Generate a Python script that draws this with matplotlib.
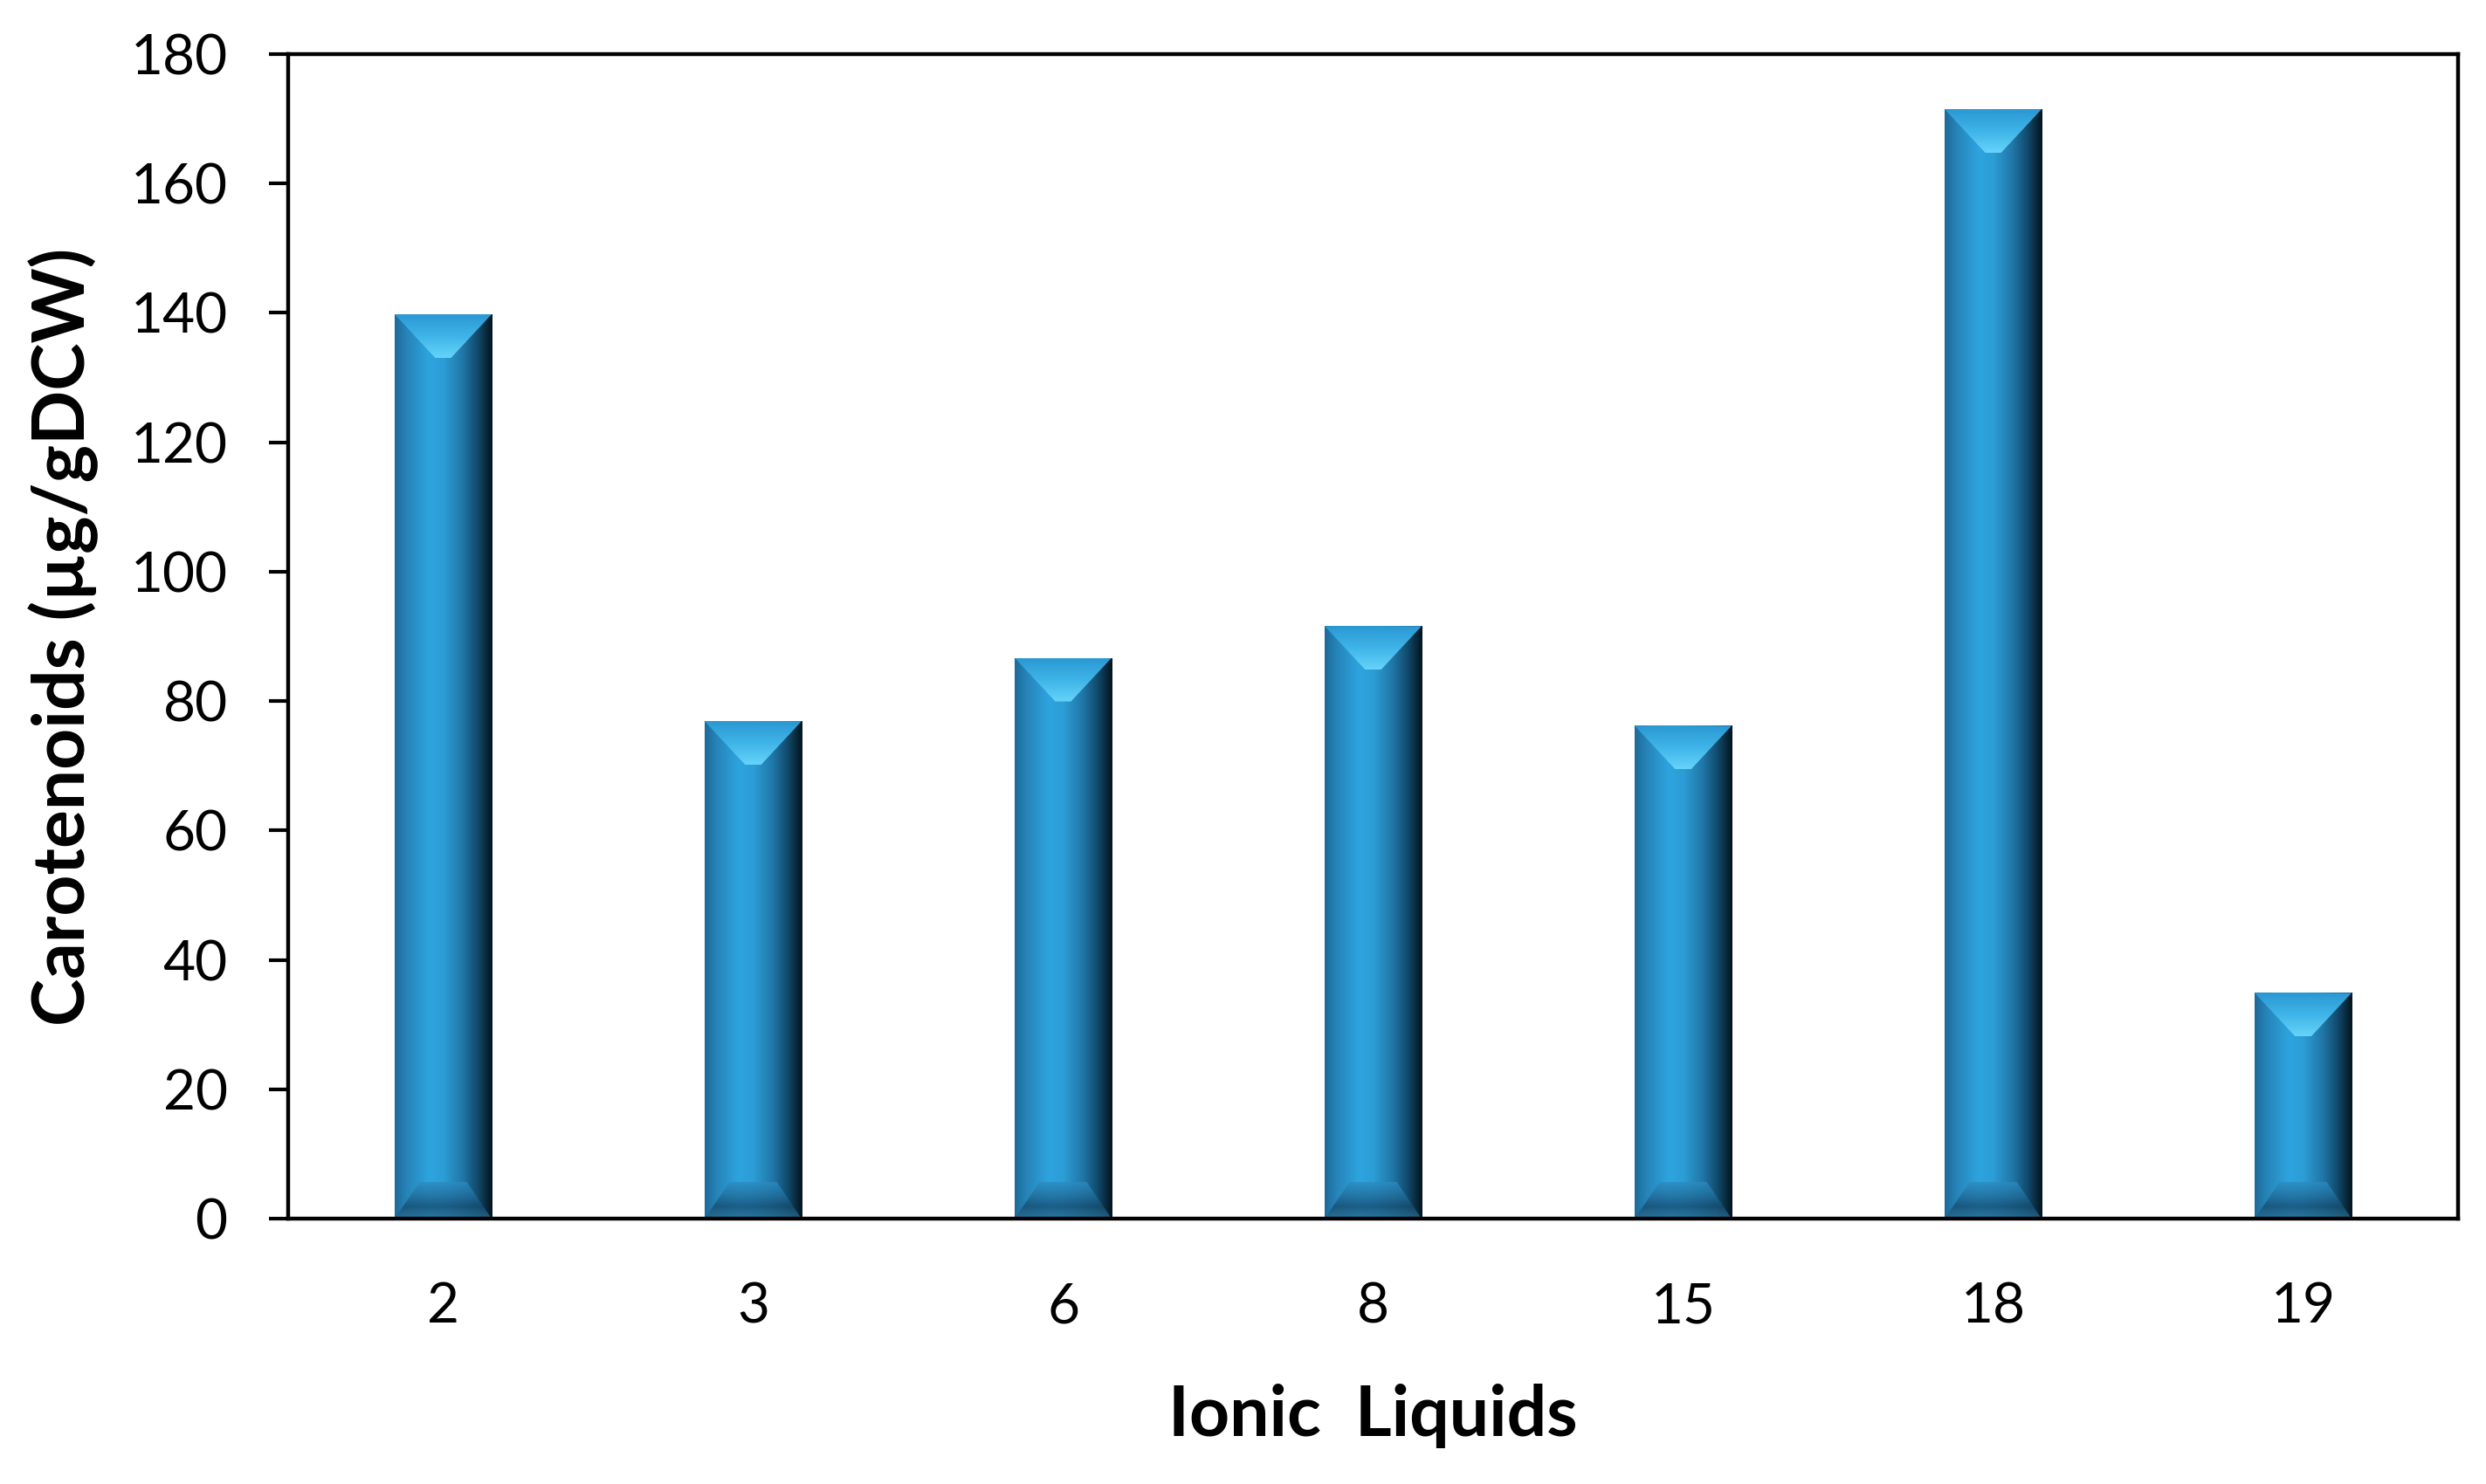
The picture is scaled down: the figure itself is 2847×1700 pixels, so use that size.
import numpy as np
import matplotlib
matplotlib.use('Agg')
import matplotlib.pyplot as plt
from matplotlib.colors import LinearSegmentedColormap
from matplotlib.patches import Polygon

# data
labels = ['2', '3', '6', '8', '15', '18', '19']
values = [139.8, 76.9, 86.7, 91.6, 76.2, 171.5, 34.9]

plt.rcParams['font.family'] = ['Lato', 'DejaVu Sans']

fig = plt.figure(figsize=(28.47, 17), dpi=100)
ax = fig.add_axes([0.1159, 0.1788, 0.8729, 0.7847])

x = np.arange(len(labels))
width = 0.313
bars = ax.bar(x, values, width=width, facecolor='none', edgecolor='none')

# horizontal shading across each bar
body_cmap = LinearSegmentedColormap.from_list('body', [
    (0.0, '#1d6a98'), (0.12, '#2684b8'), (0.35, '#2ea4df'),
    (0.5, '#2c9dd6'), (0.7, '#2076a6'), (0.85, '#124a6c'), (1.0, '#03131d')])
top_cmap = LinearSegmentedColormap.from_list('top', ['#2a98d2', '#3fb4e8', '#66d4fa'])
bot_cmap = LinearSegmentedColormap.from_list('bot', ['#2d8cc2', '#2272a0', '#174d70', '#2a6f95'])

grad_h = np.linspace(0, 1, 256).reshape(1, -1)
grad_v = np.linspace(0, 1, 256).reshape(-1, 1)

# bevel sizes, converted from pixels to data units
dy = 180 / 1334.0
dx = 7 / 2485.0
top_depth = 50 * dy
bot_depth = 42 * dy
flat = 9 * dx

for b in bars:
    x0 = b.get_x()
    x1 = x0 + b.get_width()
    xc = (x0 + x1) / 2
    h = b.get_height()
    im = ax.imshow(grad_h, cmap=body_cmap, extent=(x0, x1, 0, h), aspect='auto',
                   origin='lower', zorder=2)
    im.set_clip_path(b)

    tri = Polygon([(x0, h), (x1, h), (xc + flat, h - top_depth), (xc - flat, h - top_depth)],
                  closed=True, facecolor='none', edgecolor='none')
    ax.add_patch(tri)
    im2 = ax.imshow(grad_v, cmap=top_cmap, extent=(x0, x1, h - top_depth, h), aspect='auto',
                    origin='upper', zorder=3)
    im2.set_clip_path(tri)

    trb = Polygon([(x0, 0), (x1, 0), (xc + flat * 3, bot_depth), (xc - flat * 3, bot_depth)],
                  closed=True, facecolor='none', edgecolor='none')
    ax.add_patch(trb)
    im3 = ax.imshow(grad_v, cmap=bot_cmap, extent=(x0, x1, 0, bot_depth), aspect='auto',
                    origin='upper', zorder=3, alpha=0.8)
    im3.set_clip_path(trb)

ax.set_xlim(-0.5, len(labels) - 0.5)
ax.set_ylim(0, 180)
ax.set_yticks(np.arange(0, 181, 20))
ax.set_xticks(x)
ax.set_xticklabels(labels)

for s in ax.spines.values():
    s.set_linewidth(3.2)
    s.set_zorder(5)
ax.tick_params(axis='y', direction='out', length=16, width=3, labelsize=46, pad=34)
ax.tick_params(axis='x', length=0, labelsize=46, pad=52)

ax.set_ylabel('Carotenoids (µg/gDCW)', fontsize=59, fontweight='bold')
ax.set_xlabel('Ionic  Liquids', fontsize=58, fontweight='bold')
ax.yaxis.set_label_coords(-0.0873, 0.5)
ax.xaxis.set_label_coords(0.5, -0.142)

fig.savefig('out.png', dpi=100)
